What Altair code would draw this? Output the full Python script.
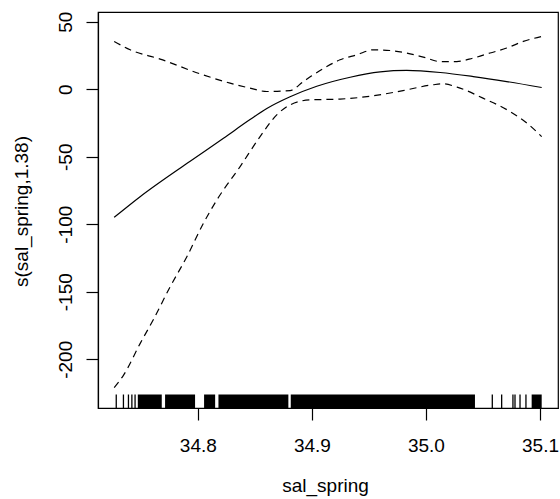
import altair as alt
import pandas as pd

# ---------------- data ----------------
fit_x = [34.7267, 34.7494, 34.7933, 34.8225, 34.8458, 34.8605, 34.8809, 34.9043,
         34.9336, 34.9599, 34.9832, 35.0125, 35.0415, 35.0708, 35.1015]
fit_y = [-94.9, -79.6, -53.3, -36.3, -22.5, -14.3, -5.6, 2.2,
         8.9, 12.8, 13.9, 12.4, 9.4, 5.7, 1.3]

upper_x = [34.7267, 34.7407, 34.7670, 34.8020, 34.8283, 34.8458, 34.8605, 34.8809,
           34.8926, 34.8999, 34.9131, 34.9247, 34.9394, 34.9539, 34.9685, 34.9832,
           34.9977, 35.0125, 35.0270, 35.0415, 35.0562, 35.0708, 35.0854, 35.1015]
upper_y = [35.4, 29.2, 22.3, 11.4, 4.5, 0.8, -1.7, -1.0,
           5.7, 9.9, 16.8, 21.8, 25.5, 29.2, 28.7, 26.8,
           23.8, 20.5, 20.5, 23.1, 26.8, 30.5, 35.4, 39.1]

lower_x = [34.7267, 34.7348, 34.7494, 34.7611, 34.7757, 34.7904, 34.8049, 34.8167,
           34.8371, 34.8546, 34.8692, 34.8809, 34.8984, 34.9247, 34.9536, 34.9799,
           35.0062, 35.0150, 35.0273, 35.0500, 35.0737, 35.0886, 35.1015]
lower_y = [-221.0, -211.9, -188.4, -170.5, -146.4, -124.1, -99.3, -82.0,
           -57.3, -35.1, -19.0, -11.6, -7.9, -7.3, -4.9, -1.0,
           3.3, 4.0, 1.6, -6.6, -16.5, -25.1, -35.1]

# isolated rug ticks and densely packed rug stretches
rug_ticks = [34.7285, 34.7348, 34.7392, 34.7422, 34.7450,
             35.0582, 35.0664, 35.0763, 35.0781, 35.0825, 35.0877]
rug_block_start = [34.7474, 34.7713, 34.8055, 34.8181, 34.8815, 35.0927]
rug_block_end = [34.7684, 34.7976, 34.8152, 34.8794, 35.0430, 35.1015]

x_ticks = [34.8, 34.9, 35.0, 35.1]
y_ticks = [-200, -150, -100, -50, 0, 50]
x_domain = [34.7125, 35.1158]
y_domain = [-236.1, 57.2]

x_title = "sal_spring"
y_title = "s(sal_spring,1.38)"

# ---------------- layout ----------------
W, H = 460, 396
FONT = "Liberation Sans"
FS = 19
RUG_H = 13.5

fit_df = pd.DataFrame({"x": fit_x, "y": fit_y})
band_df = pd.concat([
    pd.DataFrame({"x": upper_x, "y": upper_y, "band": "upper"}),
    pd.DataFrame({"x": lower_x, "y": lower_y, "band": "lower"}),
])
tick_df = pd.DataFrame({"x": rug_ticks})
block_df = pd.DataFrame({"start": rug_block_start, "end": rug_block_end})

xscale = alt.Scale(domain=x_domain, nice=False, zero=False)
yscale = alt.Scale(domain=y_domain, nice=False, zero=False)

x_axis = alt.Axis(values=x_ticks, format=".1f", tickSize=12, labelPadding=16,
                  labelBaseline="top", titleBaseline="alphabetic", titleY=83,
                  titleX=W / 2 - 3)
y_axis = alt.Axis(values=y_ticks, tickSize=12, labelPadding=15,
                  labelExpr="datum.value < 0 ? '-' + abs(datum.value) : '' + datum.value",
                  labelAngle=270, labelAlign="center", labelBaseline="alphabetic",
                  titleAngle=270, titleAlign="center", titleBaseline="alphabetic",
                  titleX=-71, titleY=H / 2 + 1)


def X(field):
    return alt.X(f"{field}:Q", scale=xscale, axis=x_axis, title=x_title)


def Y(field):
    return alt.Y(f"{field}:Q", scale=yscale, axis=y_axis, title=y_title)


fit_line = alt.Chart(fit_df).mark_line(
    color="black", strokeWidth=1.2, interpolate="monotone", clip=True
).encode(x=X("x"), y=Y("y"))

band_lines = alt.Chart(band_df).mark_line(
    color="black", strokeWidth=1.2, strokeDash=[7, 5], interpolate="monotone", clip=True
).encode(x=X("x"), y=Y("y"), detail="band:N")

rug_rules = alt.Chart(tick_df).mark_rule(color="black", strokeWidth=1.3).encode(
    x=X("x"), y=alt.value(H - RUG_H), y2=alt.value(H)
)

rug_rects = alt.Chart(block_df).mark_rect(color="black").encode(
    x=X("start"), x2="end:Q", y=alt.value(H - RUG_H), y2=alt.value(H)
)

chart = alt.layer(rug_rects, rug_rules, band_lines, fit_line).properties(
    width=W, height=H,
    autosize=alt.AutoSizeParams(type="none"),
    padding={"left": 98, "top": 12, "right": 2, "bottom": 91},
    background="white",
).configure_view(
    stroke="black", strokeWidth=1.2
).configure_axis(
    grid=False, domain=True, domainColor="black", domainWidth=1.2,
    ticks=True, tickColor="black", tickWidth=1.2,
    labelFont=FONT, labelFontSize=FS, labelColor="black",
    titleFont=FONT, titleFontSize=FS, titleFontWeight="normal", titleColor="black",
    labelOverlap=False,
)

chart.save("out.html", embed_options={"renderer": "svg", "actions": False})
